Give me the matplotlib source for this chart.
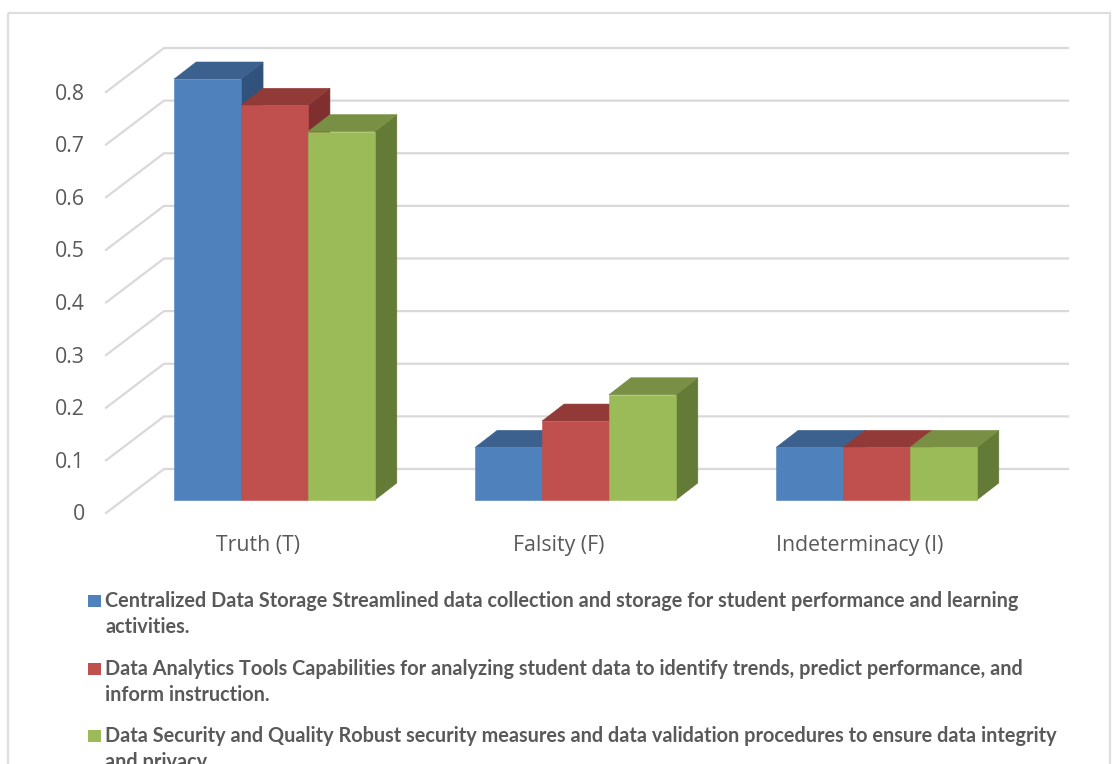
import matplotlib
matplotlib.use("Agg")
import matplotlib.pyplot as plt
from matplotlib.patches import Polygon, Rectangle

categories = ["Truth (T)", "Falsity (F)", "Indeterminacy (I)"]
storage = [0.8, 0.1, 0.1]
analytics = [0.75, 0.15, 0.1]
security = [0.7, 0.2, 0.1]
y_ticks = [0, 0.1, 0.2, 0.3, 0.4, 0.5, 0.6, 0.7, 0.8]
y_tick_labels = ["0", "0.1", "0.2", "0.3", "0.4", "0.5", "0.6", "0.7", "0.8"]
legend_lines = [
    ["Centralized Data Storage Streamlined data collection and storage for student performance and learning",
     "activities."],
    ["Data Analytics Tools Capabilities for analyzing student data to identify trends, predict performance, and",
     "inform instruction."],
    ["Data Security and Quality Robust security measures and data validation procedures to ensure data integrity",
     "and privacy."],
]

W, H = 1118, 764
TEXT = "#595959"
GRID = "#d9d9d9"
# front, top, side shades for each series
shades = [("#4f81bd", "#3c618f", "#30527c"),
          ("#c0504d", "#923a38", "#7f302e"),
          ("#9bbb59", "#788f44", "#647a37")]
series = [storage, analytics, security]

fig = plt.figure(figsize=(W / 100, H / 100), dpi=100, facecolor="white")

# Frame around the whole chart
frame = fig.add_axes([0, 0, 1, 1], zorder=0)
frame.set_xlim(0, W)
frame.set_ylim(H, 0)
frame.axis("off")
frame.add_patch(Rectangle((7.5, 12.5), 1102, 800, fill=False, ec="#dedede", lw=1.6))

# Plot axes: x in category index, y in value; the plane of the bar fronts
x0_px, x1_px = 124.0, 1027.0
y0_px, y1_px = 500.0, 79.0
ax = fig.add_axes([x0_px / W, 1 - y0_px / H, (x1_px - x0_px) / W, (y0_px - y1_px) / H], zorder=1)
ax.set_xlim(-0.5, 2.5)
ax.set_ylim(0, 0.8)
ax.axis("off")
ux = (x1_px - x0_px) / 3          # pixels per category
uy = (y0_px - y1_px) / 0.8        # pixels per unit of value


def px_x(p):
    return p / ux


def px_y(p):
    return p / uy


# Oblique projection: floor front edge, wall, and bar depth
floor_dx, floor_dy = px_x(-18), px_y(-13)
wall_dx, wall_dy = px_x(40), px_y(31)
wall_right = px_x(1068 - x0_px) - 0.5
depth_x, depth_y = px_x(22), px_y(17)

for v in y_ticks:
    ax.plot([-0.5 + floor_dx, -0.5 + wall_dx, wall_right],
            [v + floor_dy, v + wall_dy, v + wall_dy],
            color=GRID, lw=1.6, clip_on=False, zorder=1, solid_joinstyle="miter")

bar_w = 0.2222
for c in range(len(categories)):
    for s, vals in enumerate(series):
        v = vals[c]
        left = c + (s - 1.5) * bar_w
        right = left + bar_w
        front, top, side = shades[s]
        z = 2 + c + s * 0.1
        ax.add_patch(Polygon([(right, 0), (right + depth_x, depth_y),
                              (right + depth_x, v + depth_y), (right, v)],
                             fc=side, ec=side, lw=0.4, clip_on=False, zorder=z))
        ax.add_patch(Polygon([(left, v), (left + depth_x, v + depth_y),
                              (right + depth_x, v + depth_y), (right, v)],
                             fc=top, ec=top, lw=0.4, clip_on=False, zorder=z))
        ax.add_patch(Rectangle((left, 0), bar_w, v, fc=front, ec=front, lw=0.4,
                               clip_on=False, zorder=z + 0.01))

for v, lab in zip(y_ticks, y_tick_labels):
    ax.text(-0.5 + px_x(-39), v + floor_dy - px_y(2), lab, ha="right", va="center",
            fontsize=15.3, color=TEXT, family="Open Sans", clip_on=False)

for c, lab in enumerate(categories):
    ax.text(c - px_x(17), px_y(-51), lab, ha="center", va="baseline",
            fontsize=15.3, color=TEXT, family="Open Sans", clip_on=False)

# Legend, laid out by hand so its wrapped lines stay in order
legend_baseline = [607, 675, 742]
for (first, second), y, shade in zip(legend_lines, legend_baseline, shades):
    frame.add_patch(Rectangle((88, y - 12.5), 13, 12, fc=shade[0], ec="none"))
    frame.text(105, y, first, ha="left", va="baseline", fontsize=14.3,
               fontweight="bold", color=TEXT, family="Lato")
    frame.text(105, y + 26, second, ha="left", va="baseline", fontsize=14.3,
               fontweight="bold", color=TEXT, family="Lato", clip_on=True)

fig.savefig("out.png", dpi=100)
